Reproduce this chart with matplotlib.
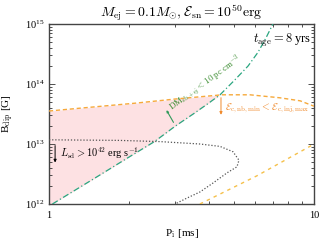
import numpy as np
import matplotlib
matplotlib.use("Agg")
import matplotlib.pyplot as plt
from matplotlib.ticker import FixedLocator, FixedFormatter, LogLocator, NullFormatter

plt.rcParams['font.family'] = ['Liberation Serif', 'DejaVu Serif']
plt.rcParams['mathtext.fontset'] = 'cm'

# --- data (P in ms, log10 B in G) ---
green_P = [1.03, 1.5, 2.0, 2.5, 3.0, 3.5, 4.0, 4.42, 5.03, 5.64, 6.15, 6.59, 7.0]
green_logB = [12.0, 12.44, 12.78, 13.04, 13.30, 13.50, 13.68, 13.82, 14.07, 14.30, 14.53, 14.77, 15.0]

orange_up_P = [1.0, 2.11, 3.0, 4.5, 5.73, 7.44, 8.86, 10.0]
orange_up_logB = [13.55, 13.68, 13.75, 13.82, 13.82, 13.77, 13.72, 13.63]

orange_lo_P = [3.71, 6.09, 9.83, 10.0]
orange_lo_logB = [12.0, 12.47, 12.98, 13.01]

black_P = [1.0, 1.85, 2.62, 3.12, 3.71, 4.42, 4.95, 5.21, 5.12, 4.70, 4.16, 3.71, 3.32, 2.99]
black_logB = [13.07, 13.06, 13.04, 13.02, 13.0, 12.96, 12.87, 12.73, 12.62, 12.52, 12.35, 12.2, 12.1, 12.0]

x_ticks = [1, 10]
x_ticklabels = ['1', '10']
y_ticks = [1e12, 1e13, 1e14, 1e15]

W, H = 332, 245
fig = plt.figure(figsize=(W / 100, H / 100), dpi=100)
ax = fig.add_axes([49 / W, 1 - 204 / H, 265 / W, 180 / H])
ax.set_xscale('log')
ax.set_yscale('log')
ax.set_xlim(1, 10)
ax.set_ylim(1e12, 1e15)

gP = np.array(green_P); gB = 10 ** np.array(green_logB)
ouP = np.array(orange_up_P); ouB = 10 ** np.array(orange_up_logB)
olP = np.array(orange_lo_P); olB = 10 ** np.array(orange_lo_logB)
bP = np.array(black_P); bB = 10 ** np.array(black_logB)

# pink fill between green (lower-right boundary) and upper orange line
xf = np.logspace(0, np.log10(10), 400)
upper = 10 ** np.interp(np.log10(xf), np.log10(ouP), np.array(orange_up_logB))
lower = 10 ** np.interp(np.log10(xf), np.log10(gP), np.array(green_logB), left=11.0, right=16.0)
lower = np.maximum(lower, 1e12)
ax.fill_between(xf, lower, upper, where=upper > lower, color='#fde1e3', lw=0, zorder=1)

green = '#2aa680'
ax.plot(gP, gB, color=green, lw=0.9, ls=(0, (5, 2, 1, 2)), zorder=3)
ax.plot(ouP, ouB, color='#f6a93b', lw=1.0, ls=(0, (3, 2)), zorder=3)
ax.plot(olP, olB, color='#f5c04a', lw=1.0, ls=(0, (2.5, 3)), zorder=3)
ax.plot(bP, bB, color='#555555', lw=0.9, ls=(0, (1, 1.5)), zorder=3)

# annotations
ax.text(0.99, 0.906, r'$t_{\rm age} = 8$ yrs', transform=ax.transAxes,
        ha='right', va='center', fontsize=9)
ax.text(0.042, 0.283, r'$L_{\rm sd} > 10^{42}$ erg s$^{-1}$', transform=ax.transAxes,
        ha='left', va='center', fontsize=7.5)
ax.annotate('', xy=(0.023, 0.215), xytext=(0.023, 0.34), xycoords='axes fraction',
            arrowprops=dict(arrowstyle='-|>', color='black', lw=0.7, mutation_scale=4))
ax.text(0.664, 0.533, r'$\mathcal{E}_{\rm c,nb,min} < \mathcal{E}_{\rm c,inj,max}$',
        transform=ax.transAxes, ha='left', va='center', fontsize=7.2, color='#f08a2c')
ax.annotate('', xy=(0.649, 0.48), xytext=(0.649, 0.606), xycoords='axes fraction',
            arrowprops=dict(arrowstyle='-|>', color='#f08a2c', lw=0.7, mutation_scale=4))
ax.text(0.592, 0.668, r'DM$_{\rm sb+ej} < 10$ pc cm$^{-3}$', transform=ax.transAxes,
        ha='center', va='center', fontsize=6.5, color='#3f8f35', rotation=36)
ax.annotate('', xy=(0.438, 0.535), xytext=(0.475, 0.44), xycoords='axes fraction',
            arrowprops=dict(arrowstyle='-|>', color='#2f9a5a', lw=0.8, mutation_scale=3))

# axes styling
ax.xaxis.set_major_locator(FixedLocator(x_ticks))
ax.xaxis.set_major_formatter(FixedFormatter(x_ticklabels))
ax.xaxis.set_minor_locator(LogLocator(base=10, subs=np.arange(2, 10)))
ax.xaxis.set_minor_formatter(NullFormatter())
ax.yaxis.set_major_locator(FixedLocator(y_ticks))
ax.yaxis.set_minor_locator(LogLocator(base=10, subs=np.arange(2, 10)))
ax.yaxis.set_minor_formatter(NullFormatter())
ax.tick_params(which='both', direction='in', top=True, right=True, colors='#333333',
               labelcolor='black', labelsize=7.5, width=0.6)
ax.tick_params(which='major', length=4)
ax.tick_params(which='minor', length=2)
ax.tick_params(axis='x', pad=5)
for s in ax.spines.values():
    s.set_color('#444444')
    s.set_linewidth(1.0)

ax.set_xlabel(r'P$_{\rm i}$ [ms]', fontsize=8, labelpad=5)
ax.set_ylabel(r'B$_{\rm dip}$ [G]', fontsize=8, labelpad=6)
ax.set_title(r'$M_{\rm ej} = 0.1 M_{\odot}, \mathcal{E}_{\rm sn} = 10^{50}{\rm erg}$',
             fontsize=10, pad=5)

fig.savefig('out.png', dpi=100)
